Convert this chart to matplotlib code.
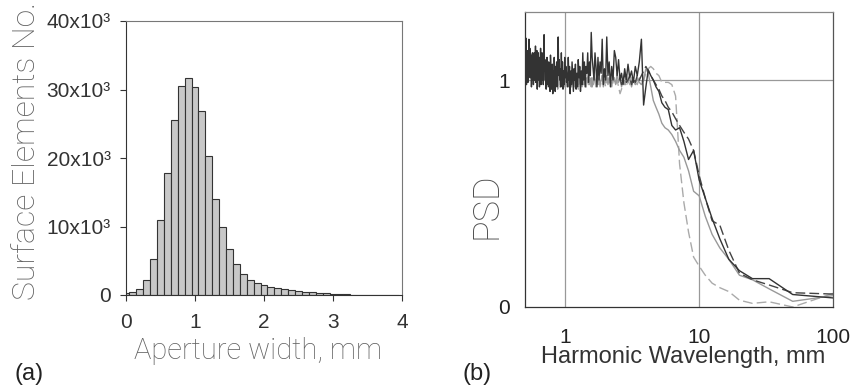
import numpy as np
import matplotlib
matplotlib.use("Agg")
import matplotlib.pyplot as plt
from matplotlib.ticker import FixedLocator, NullLocator

# ---------------- Panel (a): histogram of aperture widths ----------------
aperture_centers = [0.0, 0.1, 0.2, 0.3, 0.4, 0.5, 0.6, 0.7, 0.8, 0.9,
                    1.0, 1.1, 1.2, 1.3, 1.4, 1.5, 1.6, 1.7, 1.8, 1.9,
                    2.0, 2.1, 2.2, 2.3, 2.4, 2.5, 2.6, 2.7, 2.8, 2.9,
                    3.0, 3.1, 3.2, 3.3, 3.4, 3.5, 3.6, 3.7, 3.8, 3.9]
aperture_counts = [250, 500, 900, 2200, 5300, 10900, 17800, 25600, 30500, 31700,
                   30400, 26800, 20300, 14000, 9900, 6700, 4500, 3000, 2200, 1700,
                   1400, 1200, 970, 820, 680, 600, 480, 390, 300, 220,
                   150, 100, 80, 60, 40, 30, 20, 15, 10, 10]
hist_xticks = [0, 1, 2, 3, 4]
hist_yticks = [0, 10000, 20000, 30000, 40000]
hist_yticklabels = ["0", "10x10³", "20x10³", "30x10³", "40x10³"]

# ---------------- Panel (b): PSD vs harmonic wavelength ----------------
domain_length_mm = 100.0
psd_dark_solid = [
    0.04, 0.055, 0.125, 0.125, 0.16, 0.21, 0.30, 0.39, 0.48, 0.56,
    0.69, 0.65, 0.73, 0.79, 0.78, 0.80, 0.87, 0.88, 0.90, 0.95,
    0.97, 1.00, 1.02, 1.045, 0.97, 0.89, 1.18, 1.08, 1.02, 1.06,
    0.99, 1.04, 1.01, 1.07, 1.00, 1.05, 0.98, 1.03, 1.00, 1.09,
    1.02, 1.10, 1.13, 1.00, 1.06, 0.97, 1.08, 1.02, 1.19, 1.00,
    1.05, 0.98, 1.18, 1.03, 1.08, 1.00, 1.10, 0.97, 1.06, 1.12,
    1.00, 1.05, 1.10, 1.21, 1.02, 1.08, 0.99, 1.12, 1.03, 1.06,
    0.97, 1.08, 1.00, 1.12, 0.98, 1.04, 0.95, 1.06, 1.01, 1.09,
    0.97, 1.03, 0.96, 1.07, 1.00, 1.05, 0.95, 1.02, 1.08, 0.98,
    1.04, 0.94, 1.06, 1.00, 1.10, 0.97, 1.03, 0.99, 1.06, 1.01,
    1.10, 0.98, 1.04, 0.96, 1.08, 1.00, 1.12, 0.97, 1.05, 1.00,
    1.09, 1.02, 1.19, 1.05, 0.97, 1.08, 1.00, 1.06, 0.95, 1.03,
    1.10, 0.98, 1.04, 0.94, 1.07, 1.00, 0.96, 1.05, 1.11, 0.95,
    1.02, 0.97, 1.08, 1.00, 1.05, 0.98, 1.10, 1.03, 0.96, 1.06,
    1.00, 1.09, 1.04, 1.20, 1.05, 0.98, 1.07, 1.00, 1.12, 1.03,
    1.08, 0.98, 1.14, 1.02, 1.06, 0.97, 1.10, 1.04, 1.12, 1.00,
    1.07, 0.96, 1.13, 1.05, 1.09, 0.99, 1.15, 1.03, 1.08, 1.00,
    1.12, 1.06, 0.98, 1.10, 1.04, 1.12, 1.00, 1.07, 0.97, 1.11,
    1.05, 1.09, 1.01, 1.14, 1.04, 1.08, 1.18, 1.02, 1.10, 0.99,
    1.06, 1.13, 1.00, 1.08, 0.98, 1.12, 1.185, 1.03, 1.09, 1.00]
psd_dark_dashed = [
    0.057, 0.063, 0.097, 0.12, 0.149, 0.25, 0.36, 0.38, 0.48, 0.58,
    0.69, 0.74, 0.77, 0.80, 0.83, 0.86, 0.88, 0.91, 0.93, 0.96,
    0.98, 1.00, 1.02, 1.04, 1.06, 1.04, 1.02, 1.00, 1.02, 0.99,
    1.01, 0.98, 1.02, 1.00, 0.99, 1.03, 1.00, 0.98, 1.01, 1.00]
psd_gray_solid = [
    0.05, 0.025, 0.08, 0.12, 0.14, 0.21, 0.26, 0.32, 0.40, 0.49,
    0.51, 0.60, 0.66, 0.69, 0.73, 0.76, 0.78, 0.79, 0.81, 0.85,
    0.88, 0.91, 0.97, 1.03, 1.05, 1.00, 0.98, 0.99, 1.01, 0.98,
    1.00, 0.97, 1.01, 0.99, 1.02, 0.98, 1.00, 0.97, 1.01, 0.99,
    1.03, 0.98, 1.00, 1.02, 0.97, 1.00, 1.01, 0.98, 1.02, 0.99,
    1.00, 0.97, 1.02, 1.00, 0.98, 1.01, 0.99, 1.03, 0.98, 1.00,
    1.02, 0.99, 0.97, 1.01, 1.00, 0.98, 1.03, 0.99, 1.01, 0.97,
    1.00, 1.02, 0.98, 1.01, 0.99, 1.03, 0.97, 1.00, 1.02, 0.98,
    1.01, 0.99, 1.00, 0.97, 1.02, 1.00, 0.98, 1.03, 0.99, 1.01,
    0.97, 1.02, 1.00, 0.98, 1.01, 0.99, 1.04, 0.98, 1.00, 1.02,
    0.97, 1.01, 0.99, 1.03, 0.98, 1.00, 1.02, 0.97, 1.01, 0.99,
    1.03, 0.98, 1.00, 0.96, 1.02, 0.99, 1.01, 0.97, 1.03, 1.00,
    0.98, 1.02, 0.99, 1.01, 0.97, 1.00, 1.03, 0.98, 1.01, 0.99,
    1.02, 0.97, 1.00, 1.02, 0.98, 1.01, 0.99]
psd_light_dashed = [
    0.06, 0.0, 0.023, 0.016, 0.03, 0.068, 0.085, 0.105, 0.14, 0.18,
    0.22, 0.33, 0.46, 0.63, 0.93, 0.98, 0.99, 0.99, 0.99, 1.02,
    1.03, 1.05, 1.06, 1.05, 1.03, 1.00, 0.99, 1.01, 0.98, 1.00,
    0.99, 1.01, 0.98, 1.00, 0.97, 0.99, 1.00, 0.96, 0.94, 0.97,
    1.00, 0.98, 1.01, 0.99, 0.97, 1.00, 0.98, 1.01, 0.99, 0.97,
    1.00, 0.98, 1.02, 0.99, 0.97, 1.00, 0.98, 1.01, 0.97, 0.99,
    1.00, 0.98, 1.01, 0.97, 0.99, 1.00, 0.98, 1.02, 0.99, 0.97,
    1.00, 0.98, 1.01, 0.99, 0.97, 1.00, 0.98, 1.02, 0.99, 0.96,
    1.00, 0.98, 1.01, 0.99, 0.97, 1.00, 0.98, 1.01, 0.99, 0.97,
    1.00, 0.98, 1.02, 0.99, 0.97, 1.00, 0.98, 1.01, 0.97, 0.99,
    1.00, 0.98, 1.01, 0.97, 0.99, 1.00, 0.98, 1.02, 0.99, 0.97,
    1.00, 0.98, 1.01, 0.99, 0.96, 1.00, 0.98, 1.01, 0.99, 0.97,
    1.00, 0.98, 1.02, 0.99, 0.97, 1.00, 0.98, 1.01, 0.99, 0.97,
    1.00, 0.98, 1.01, 0.99, 0.97, 1.00, 0.98]
psd_xticks = [1, 10, 100]
psd_xticklabels = ["1", "10", "100"]
psd_yticks = [0, 1]
psd_yticklabels = ["0", "1"]


def wavelengths(values):
    harmonic = np.arange(1, len(values) + 1)
    return domain_length_mm / harmonic


TICK_FONT = ["Liberation Sans Narrow", "Liberation Sans", "DejaVu Sans"]
LABEL_FONT = ["Roboto", "DejaVu Sans"]

W, H = 861, 389
fig = plt.figure(figsize=(W / 100, H / 100), dpi=100)


def rect(l, r, t, b):
    return [l / W, (H - b) / H, (r - l) / W, (b - t) / H]


# ---- panel (a)
axa = fig.add_axes(rect(126, 402, 21, 295))
axa.bar(aperture_centers, aperture_counts, width=0.1, align="center",
        color="#c8c8c8", edgecolor="#333333", linewidth=0.8)
axa.set_xlim(0, 4)
axa.set_ylim(0, 40000)
axa.set_xticks(hist_xticks)
axa.set_xticklabels([str(t) for t in hist_xticks])
axa.set_yticks(hist_yticks)
axa.set_yticklabels(hist_yticklabels)
for lab in axa.get_xticklabels() + axa.get_yticklabels():
    lab.set_family(TICK_FONT)
    lab.set_fontsize(15)
    lab.set_color("#333333")
axa.tick_params(axis="both", direction="out", length=4, width=0.8, color="#333333")
axa.tick_params(axis="x", pad=9)
axa.tick_params(axis="y", pad=7)
axa.spines["left"].set_color("#333333")
axa.spines["bottom"].set_color("#333333")
axa.spines["top"].set_color("#777777")
axa.spines["right"].set_color("#777777")
for s in axa.spines.values():
    s.set_linewidth(0.8)

fig.text(27 / W, 1 - 151 / H, "Surface Elements No.", rotation=90, ha="center", va="center",
         family=LABEL_FONT, fontweight="light", fontsize=23, color="#606060")
fig.text(258 / W, 1 - 351 / H, "Aperture width, mm", ha="center", va="center",
         family=LABEL_FONT, fontweight="light", fontsize=21, color="#606060")
fig.text(29 / W, 1 - 374 / H, "(a)", ha="center", va="center",
         family=TICK_FONT, fontsize=17, color="#222222")

# ---- panel (b)
axb = fig.add_axes(rect(525, 833, 12, 307))
axb.set_xscale("log")
axb.set_xlim(0.5, 100)
axb.set_ylim(0, 1.3)
for xv in [1, 10]:
    axb.axvline(xv, color="#999999", linewidth=0.9, zorder=0)
axb.axhline(1, color="#999999", linewidth=0.9, zorder=0)

axb.plot(wavelengths(psd_light_dashed), psd_light_dashed, color="#aaaaaa",
         linewidth=1.0, dashes=(7, 3), zorder=2)
axb.plot(wavelengths(psd_gray_solid), psd_gray_solid, color="#999999",
         linewidth=1.0, zorder=3)
axb.plot(wavelengths(psd_dark_dashed), psd_dark_dashed, color="#444444",
         linewidth=1.0, dashes=(7, 3), zorder=4)
axb.plot(wavelengths(psd_dark_solid), psd_dark_solid, color="#333333",
         linewidth=1.0, zorder=5)

axb.xaxis.set_major_locator(FixedLocator(psd_xticks))
axb.xaxis.set_minor_locator(NullLocator())
axb.set_xticklabels(psd_xticklabels)
axb.set_yticks(psd_yticks)
axb.set_yticklabels(psd_yticklabels)
for lab in axb.get_xticklabels() + axb.get_yticklabels():
    lab.set_family(TICK_FONT)
    lab.set_fontsize(15)
    lab.set_color("#222222")
axb.tick_params(axis="x", length=0, pad=15)
axb.tick_params(axis="y", length=0, pad=11)
axb.spines["left"].set_color("#333333")
axb.spines["bottom"].set_color("#333333")
axb.spines["top"].set_color("#888888")
axb.spines["right"].set_color("#555555")
for s in axb.spines.values():
    s.set_linewidth(0.9)

fig.text(487 / W, 1 - 206 / H, "PSD", rotation=90, ha="center", va="center",
         family=LABEL_FONT, fontweight="light", fontsize=26, color="#505050")
fig.text(683 / W, 1 - 357 / H, "Harmonic Wavelength, mm", ha="center", va="center",
         family=TICK_FONT, fontsize=17, color="#333333")
fig.text(477 / W, 1 - 374 / H, "(b)", ha="center", va="center",
         family=TICK_FONT, fontsize=17, color="#222222")

fig.savefig("out.png", dpi=100, facecolor="white")
